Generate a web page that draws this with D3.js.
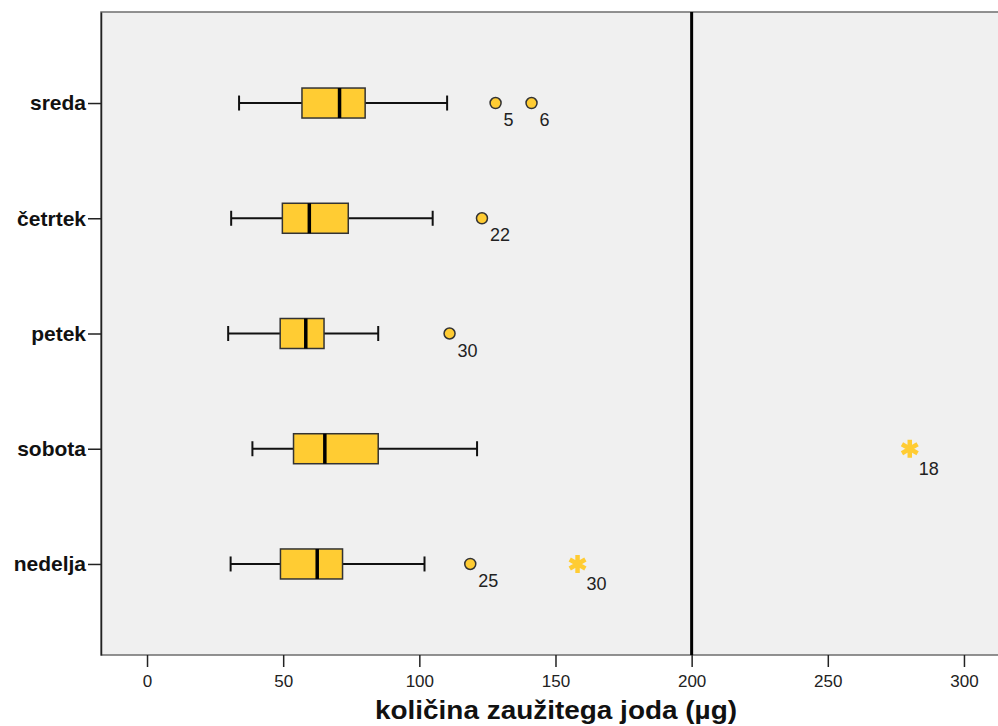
<!DOCTYPE html>
<html>
<head>
<meta charset="utf-8">
<script src="https://cdn.jsdelivr.net/npm/d3@7"></script>
<style>
  body { margin: 0; background: #fff; }
  svg { display: block; font-family: "Liberation Sans", Arial, sans-serif; }
</style>
</head>
<body>
<svg id="chart" width="998" height="726"></svg>
<script>
// Iodine intake per weekday: five-number summaries
const days        = ["sreda", "četrtek", "petek", "sobota", "nedelja"];
const whiskerLow  = [33.8, 30.9, 29.8, 38.7, 30.7];
const q1          = [56.9, 49.7, 48.9, 53.8, 49.0];
const median      = [70.7, 59.6, 58.3, 65.3, 62.5];
const q3          = [80.1, 73.9, 65.0, 84.9, 71.8];
const whiskerHigh = [110.2, 104.9, 84.9, 121.2, 101.9];

// Outliers (circles) and extremes (stars) with case numbers
const outlierDay   = ["sreda", "sreda", "četrtek", "petek", "nedelja"];
const outlierValue = [128, 141.2, 123, 111.1, 118.7];
const outlierCase  = ["5", "6", "22", "30", "25"];

const extremeDay   = ["sobota", "nedelja"];
const extremeValue = [280.1, 158.1];
const extremeCase  = ["18", "30"];

const xTicks = [0, 50, 100, 150, 200, 250, 300];
const referenceValue = 200;

(function () {
const svg = d3.select("#chart");
const plotLeft = 101, plotRight = 998, plotTop = 12, plotBottom = 655;

const x = d3.scaleLinear().domain([-16.9, 312.5]).range([plotLeft, plotRight]);
const y = d3.scalePoint().domain(days).range([plotTop, plotBottom]).padding(0.79);

const yellow = "#ffcc33";
const boxH = 30, capH = 15;

// plot background
svg.append("rect")
  .attr("x", plotLeft).attr("y", plotTop)
  .attr("width", plotRight - plotLeft + 5).attr("height", plotBottom - plotTop)
  .attr("fill", "#f0f0f0")
  .attr("stroke", "#6e6e6e").attr("stroke-width", 1.5);

// reference line
svg.append("line")
  .attr("x1", x(referenceValue)).attr("x2", x(referenceValue))
  .attr("y1", plotTop).attr("y2", plotBottom)
  .attr("stroke", "#000").attr("stroke-width", 3);

// boxes
const g = svg.append("g");
days.forEach((d, i) => {
  const cy = y(d);
  g.append("line")
    .attr("x1", x(whiskerLow[i])).attr("x2", x(whiskerHigh[i]))
    .attr("y1", cy).attr("y2", cy)
    .attr("stroke", "#111").attr("stroke-width", 2);
  [whiskerLow[i], whiskerHigh[i]].forEach(v => {
    g.append("line")
      .attr("x1", x(v)).attr("x2", x(v))
      .attr("y1", cy - capH / 2).attr("y2", cy + capH / 2)
      .attr("stroke", "#111").attr("stroke-width", 2);
  });
  g.append("rect")
    .attr("x", x(q1[i])).attr("y", cy - boxH / 2)
    .attr("width", x(q3[i]) - x(q1[i])).attr("height", boxH)
    .attr("fill", yellow).attr("stroke", "#333").attr("stroke-width", 1.5);
  g.append("line")
    .attr("x1", x(median[i])).attr("x2", x(median[i]))
    .attr("y1", cy - boxH / 2).attr("y2", cy + boxH / 2)
    .attr("stroke", "#000").attr("stroke-width", 3.5);
});

// outliers
outlierValue.forEach((v, i) => {
  const cx = x(v), cy = y(outlierDay[i]);
  g.append("circle")
    .attr("cx", cx).attr("cy", cy).attr("r", 5.5)
    .attr("fill", yellow).attr("stroke", "#333").attr("stroke-width", 1.5);
  g.append("text")
    .attr("x", cx + 8).attr("y", cy + 23)
    .attr("font-size", 18).attr("fill", "#222")
    .text(outlierCase[i]);
});

// extremes
const star = d3.symbol().type(d3.symbolAsterisk).size(230);
extremeValue.forEach((v, i) => {
  const cx = x(v), cy = y(extremeDay[i]);
  g.append("path")
    .attr("d", star())
    .attr("transform", `translate(${cx},${cy})`)
    .attr("fill", "none").attr("stroke", yellow)
    .attr("stroke-width", 4.5);
  g.append("text")
    .attr("x", cx + 9).attr("y", cy + 26)
    .attr("font-size", 18).attr("fill", "#222")
    .text(extremeCase[i]);
});

// y axis
const yAxis = svg.append("g")
  .attr("transform", `translate(${plotLeft},0)`)
  .call(d3.axisLeft(y).tickSizeInner(13).tickSizeOuter(0).tickPadding(2));
yAxis.select(".domain").attr("stroke", "#222").attr("stroke-width", 1.5);
yAxis.selectAll(".tick line").attr("stroke", "#222").attr("stroke-width", 1.5);
yAxis.selectAll(".tick text")
  .attr("font-size", 21).attr("font-weight", "bold").attr("fill", "#111")
  .attr("font-family", "Liberation Sans, Arial, sans-serif");

// x axis
const xAxis = svg.append("g")
  .attr("transform", `translate(0,${plotBottom})`)
  .call(d3.axisBottom(x).tickValues(xTicks).tickSize(12).tickPadding(8));
xAxis.select(".domain").remove();
xAxis.selectAll(".tick line").attr("stroke", "#222").attr("stroke-width", 1.5);
xAxis.selectAll(".tick text")
  .attr("font-size", 17).attr("fill", "#222")
  .attr("font-family", "Liberation Sans, Arial, sans-serif");

// axis title
svg.append("text")
  .attr("x", 556).attr("y", 719)
  .attr("text-anchor", "middle")
  .attr("font-size", 25).attr("font-weight", "bold").attr("fill", "#111")
  .attr("textLength", 362).attr("lengthAdjust", "spacingAndGlyphs")
  .text("količina zaužitega joda (µg)");
})();
</script>
</body>
</html>
